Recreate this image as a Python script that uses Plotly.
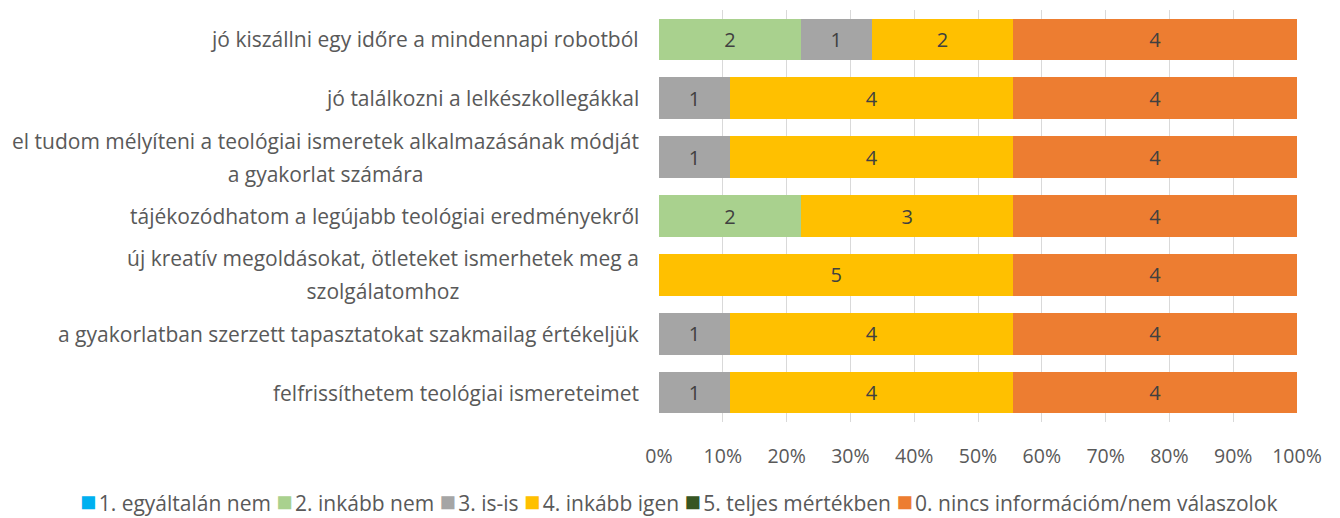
import plotly.graph_objects as go

categories = [
    "jó kiszállni egy időre a mindennapi robotból",
    "jó találkozni a lelkészkollegákkal",
    "el tudom mélyíteni a teológiai ismeretek alkalmazásának módját<br>a gyakorlat számára",
    "tájékozódhatom a legújabb teológiai eredményekről",
    "új kreatív megoldásokat, ötleteket ismerhetek meg a<br>szolgálatomhoz",
    "a gyakorlatban szerzett tapasztatokat szakmailag értékeljük",
    "felfrissíthetem teológiai ismereteimet",
]
series_names = ["1. egyáltalán nem", "2. inkább nem", "3. is-is", "4. inkább igen",
                "5. teljes mértékben", "0. nincs információm/nem válaszolok"]
s1 = [0, 0, 0, 0, 0, 0, 0]
s2 = [2, 0, 0, 2, 0, 0, 0]
s3 = [1, 1, 1, 0, 0, 1, 1]
s4 = [2, 4, 4, 3, 5, 4, 4]
s5 = [0, 0, 0, 0, 0, 0, 0]
s0 = [4, 4, 4, 4, 4, 4, 4]
x_ticks = [0, 10, 20, 30, 40, 50, 60, 70, 80, 90, 100]

colors = ["#00b0f0", "#a9d18e", "#a5a5a5", "#ffc000", "#375623", "#ed7d31"]
series_vals = [s1, s2, s3, s4, s5, s0]

FONT = "Open Sans"
LBL = 21
fig = go.Figure()
for name, vals, col in zip(series_names, series_vals, colors):
    fig.add_trace(go.Bar(
        y=categories, x=vals, name=name, orientation="h",
        marker=dict(color=col, line=dict(width=0)),
        text=[str(v) if v else "" for v in vals],
        textposition="inside", insidetextanchor="middle",
        textfont=dict(family=FONT, size=20, color="#404040"),
        hoverinfo="skip", showlegend=False,
    ))

for c in categories:
    lines = c.split("<br>")
    txt = "<br>".join(f"<span style='font-size:{LBL}px'>{ln}</span>" for ln in lines)
    fig.add_annotation(x=0, xref="paper", y=c, yref="y", text=txt, showarrow=False,
                       xanchor="right", align="center", xshift=-18,
                       font=dict(family=FONT, size=25, color="#595959"))

# legend as one line of real text with coloured squares
legend_text = " ".join(
    f"<span style='color:{col};font-size:27px'>■</span><span style='font-size:9px'> </span>{name}"
    for name, col in zip(series_names, colors)
)
fig.add_annotation(x=0.0306, xref="paper", y=0, yref="paper", yanchor="middle",
                   yshift=-78, xanchor="center", text=legend_text, showarrow=False,
                   font=dict(family=FONT, size=LBL, color="#595959"))

fig.update_layout(
    barmode="stack", barnorm="percent", bargap=0.29,
    width=1340, height=518,
    margin=dict(l=659, r=43, t=10, b=96),
    plot_bgcolor="white", paper_bgcolor="white",
    font=dict(family=FONT, size=LBL, color="#595959"),
    uniformtext=dict(mode="show", minsize=10),
    xaxis=dict(range=[0, 100], tickvals=x_ticks, ticktext=[f"{t}%" for t in x_ticks],
               showgrid=True, gridcolor="#d9d9d9", gridwidth=1.3, zeroline=False,
               showline=False, ticks="", ticklabelstandoff=20,
               tickfont=dict(family=FONT, size=19.5, color="#595959")),
    yaxis=dict(autorange="reversed", showticklabels=False, ticks="", showline=False,
               showgrid=False),
    showlegend=False,
)
fig.write_html("out.html", config={"displayModeBar": False},
               post_script="document.body.style.margin='0';")
